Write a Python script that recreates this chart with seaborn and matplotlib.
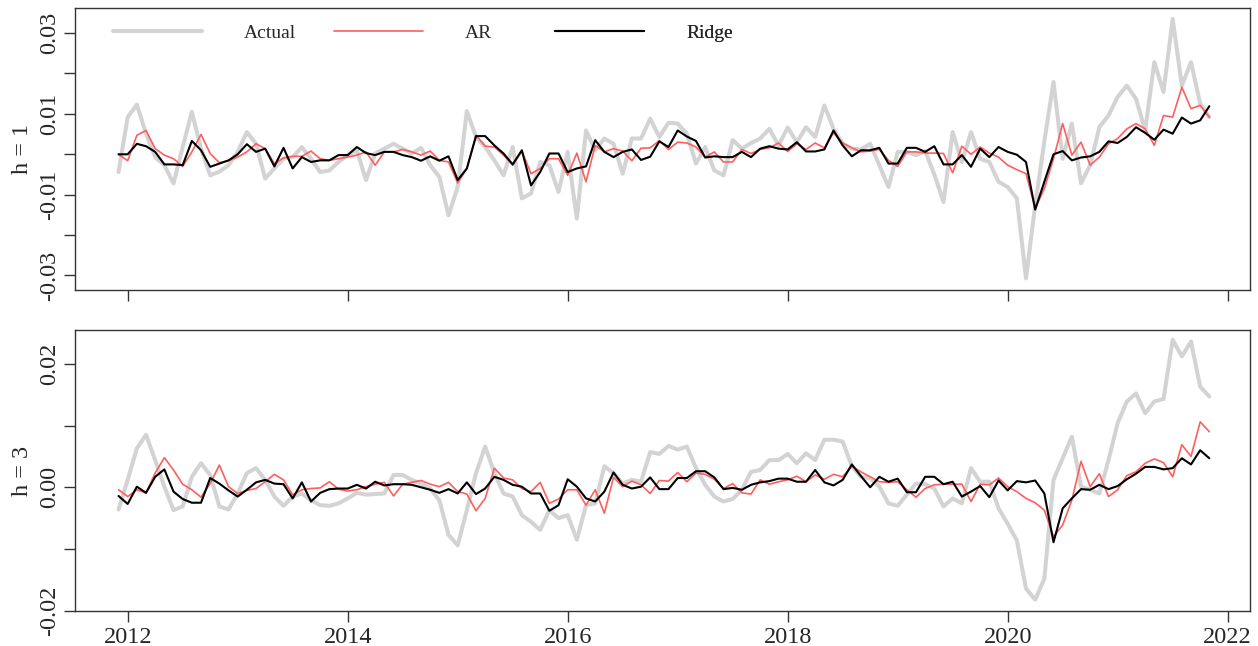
import numpy as np
import pandas as pd
import matplotlib
matplotlib.use("Agg")
import matplotlib.pyplot as plt
from matplotlib.lines import Line2D
import seaborn as sns

# Monthly observations, Dec 2011 .. Nov 2021 (values in units of 0.001)
start_year, start_month, n_months = 2011, 12, 120

actual_h1 = [-4.4, 9.2, 12.3, 5.1, -0.7, -2.7, -7.2, 1.8, 10.5, 1.4,
             -5.2, -4.3, -2.7, 0.6, 5.5, 2.6, -6.0, -3.5, -1.1, -0.7,
             1.8, -1.1, -4.4, -4.0, -1.9, -0.2, 1.0, -6.4, 0.2, 1.4,
             2.6, 1.4, 0.2, 1.6, -2.7, -5.6, -15.1, -8.1, 10.7, 4.3,
             1.8, -1.5, -5.2, 1.8, -10.9, -9.7, -1.9, -2.7, -9.3, 0.6,
             -15.9, 5.9, 1.0, 3.9, 2.6, -4.8, 3.9, 3.9, 8.8, 4.3,
             7.8, 7.6, 5.1, -2.3, 1.8, -4.0, -5.2, 3.5, 1.4, 2.8,
             3.9, 6.3, 2.2, 6.6, 3.0, 6.7, 4.3, 12.1, 6.3, 2.6,
             1.4, 1.2, 2.6, -2.7, -8.1, 0.6, 0.6, -0.2, 0.8, -5.0,
             -11.8, 5.5, -1.9, 5.5, -1.1, -1.9, -6.8, -8.1, -10.9, -30.7,
             -12.6, 3.2, 17.9, -1.1, 7.6, -7.2, -2.7, 6.7, 9.6, 14.2,
             17.0, 13.7, 5.9, 22.8, 15.4, 33.5, 17.0, 22.8, 12.5, 9.2]

ar_h1 = [0.0, -1.6, 4.7, 5.9, 1.4, -0.2, -1.1, -3.0, 0.6, 4.9,
         0.2, -2.1, -1.6, -0.7, 0.6, 2.6, 1.4, -2.3, -0.9, -0.5,
         -0.5, 0.8, -1.1, -1.5, -1.1, -0.7, -0.2, 0.6, -2.7, 0.6,
         0.6, 1.2, 0.6, -0.2, 0.8, -1.5, -1.9, -7.1, -3.5, 4.7,
         2.0, 1.8, -0.2, -2.7, 0.8, -4.8, -3.5, -1.1, -1.1, -5.2,
         0.3, -6.8, 2.2, 0.6, 1.4, 0.8, -1.6, 1.5, 1.6, 3.4,
         1.2, 3.0, 2.8, 1.8, -0.7, 0.6, -1.9, -1.9, 1.2, 0.2,
         1.2, 1.6, 2.8, 0.7, 2.6, 1.2, 2.8, 1.6, 5.3, 2.8,
         1.6, 0.6, 0.8, 1.2, -1.5, -3.0, 0.6, 0.6, 0.3, 0.3,
         0.2, -4.6, 2.0, 0.0, 1.8, 0.3, -0.7, -2.7, -3.8, -4.8,
         -13.4, -8.5, -1.1, 7.6, -0.2, 3.0, -2.7, -0.7, 2.6, 3.9,
         6.3, 7.6, 6.3, 2.2, 9.6, 9.2, 16.6, 11.3, 12.1, 9.2]

ridge_h1 = [0.0, 0.0, 2.6, 2.0, 0.6, -2.5, -2.5, -2.7, 3.3, 1.0,
            -3.1, -2.3, -1.5, 0.0, 2.5, 0.6, 1.4, -3.0, 1.6, -3.5,
            -0.7, -1.9, -1.5, -1.5, -0.2, -0.2, 1.8, 0.3, -0.2, 0.6,
            0.6, -0.2, -0.7, -1.6, -0.5, -1.6, -0.5, -6.4, -3.5, 4.5,
            4.5, 2.2, 0.2, -2.5, 1.0, -7.7, -4.4, 0.2, 0.2, -4.4,
            -3.5, -3.0, 3.5, 0.6, -0.7, 0.6, 1.2, -1.4, -0.6, 3.2,
            1.8, 5.9, 4.4, 3.3, -0.8, -0.5, -0.7, -0.7, 0.6, -0.7,
            1.4, 2.0, 1.4, 1.2, 3.0, 0.7, 0.7, 1.2, 5.9, 2.2,
            -0.5, 1.0, 1.0, 1.6, -2.3, -2.3, 1.6, 1.6, 0.6, 2.0,
            -2.5, -2.5, -0.2, -3.1, 1.4, -0.7, 1.8, 0.6, -0.1, -1.9,
            -13.7, -6.8, 0.0, 0.8, -1.5, -0.8, -0.5, 0.6, 3.2, 2.8,
            4.3, 6.7, 5.3, 3.6, 6.1, 5.1, 9.1, 7.6, 8.4, 11.9]

actual_h3 = [-3.6, 1.2, 6.3, 8.5, 4.4, 0.1, -3.7, -3.1, 1.7, 3.9,
             2.0, -3.1, -3.6, -1.0, 2.3, 3.1, 1.2, -1.5, -3.0, -1.5,
             -1.0, -2.1, -2.9, -3.0, -2.6, -1.8, -0.9, -1.2, -1.1, -1.0,
             2.0, 2.0, 1.2, 0.6, -0.2, -2.1, -7.7, -9.4, -3.7, 2.3,
             6.6, 2.3, -1.0, -1.5, -4.5, -5.6, -6.9, -3.7, -5.0, -4.5,
             -8.5, -2.9, -2.6, 3.4, 2.3, 0.6, 1.2, 0.9, 5.7, 5.4,
             6.7, 6.1, 6.6, 3.1, 0.4, -1.5, -2.3, -1.9, -0.4, 2.5,
             2.8, 4.4, 4.4, 5.4, 3.9, 5.5, 4.4, 7.7, 7.7, 7.4,
             3.4, 1.7, 1.5, 0.1, -2.6, -3.0, -1.2, 0.6, 0.5, -0.2,
             -3.1, -1.8, -2.6, 3.1, 0.9, 0.9, -3.4, -5.9, -8.6, -16.4,
             -18.2, -14.8, 1.2, 4.7, 8.2, 0.1, -0.4, -1.0, 4.4, 10.4,
             13.9, 15.2, 12.0, 13.9, 14.3, 23.9, 21.2, 23.6, 16.3, 14.7]

ar_h3 = [-0.4, -1.5, -0.4, -0.9, 2.3, 4.8, 2.8, 0.5, -0.4, -1.6,
         0.6, 3.6, 0.1, -1.0, -0.5, -0.2, 0.9, 2.1, 1.2, -1.2,
         -0.4, -0.2, -0.1, 0.9, -0.3, -0.6, -0.4, 0.1, 0.5, 0.8,
         -1.4, 0.5, 0.8, 1.1, 0.5, 0.1, 0.8, -0.7, -1.1, -3.8,
         -1.8, 3.1, 1.5, 1.2, -0.2, -0.7, 0.8, -2.6, -1.9, -0.4,
         -0.4, -2.9, -0.4, -4.2, 1.6, 0.1, 1.0, 0.4, -1.0, 1.1,
         1.0, 2.4, 0.9, 2.3, 2.1, 1.3, -0.2, 0.6, -0.9, -1.1,
         1.2, 0.5, 0.9, 1.2, 1.8, 0.9, 2.0, 1.3, 2.1, 1.7,
         3.4, 2.5, 1.7, 0.9, 0.8, 0.9, -0.4, -1.6, -0.2, 0.4,
         0.5, 0.5, 0.5, -2.3, 0.5, 0.4, 1.5, 0.1, -0.7, -1.8,
         -2.5, -3.7, -8.0, -6.1, -2.1, 4.2, 0.1, 2.2, -1.5, -0.4,
         1.9, 2.5, 3.9, 4.6, 4.0, 1.7, 6.9, 5.0, 10.6, 9.0]

ridge_h3 = [-1.4, -2.7, 0.1, -0.9, 1.7, 2.9, -0.7, -1.9, -2.5, -2.5,
            1.5, 0.6, -0.5, -1.5, -0.4, 0.8, 1.2, 0.6, 0.5, -1.8,
            0.8, -2.3, -0.9, -0.3, -0.2, -0.2, 0.4, -0.2, 0.9, 0.3,
            0.5, 0.5, 0.4, 0.0, -0.4, -0.9, -0.3, -1.0, 0.8, -1.1,
            -0.2, 1.7, 1.2, 0.4, 0.1, -1.0, -1.0, -3.8, -2.9, 1.3,
            0.1, -1.8, -2.3, -0.7, 2.4, 0.4, -0.2, 0.1, 1.6, -0.3,
            -0.3, 1.5, 1.5, 2.6, 2.6, 1.6, -0.3, -0.1, -0.4, 0.4,
            0.8, 1.0, 1.4, 1.4, 0.9, 0.9, 2.8, 0.8, 0.3, 1.2,
            3.7, 1.8, 0.0, 1.7, 0.9, 1.4, -0.8, -0.8, 1.7, 1.7,
            0.5, 0.9, -1.5, -0.7, 0.2, -1.6, 1.1, -0.5, 1.0, 0.8,
            1.1, -1.0, -8.9, -3.4, -1.8, -0.3, -0.4, 0.4, -0.3, 0.2,
            1.3, 2.2, 3.3, 3.3, 2.9, 3.1, 4.7, 3.7, 6.0, 4.7]

series_names = ["Actual", "AR", "Ridge"]
year_ticks = [2012, 2014, 2016, 2018, 2020, 2022]

# decimal-year time axis for the monthly index
t = start_year + (start_month - 1) / 12 + np.arange(n_months) / 12.0


def to_frame(actual, ar, ridge):
    df = pd.DataFrame({"time": t,
                       "Actual": np.array(actual) / 1000.0,
                       "AR": np.array(ar) / 1000.0,
                       "Ridge": np.array(ridge) / 1000.0})
    return df.melt(id_vars="time", var_name="model", value_name="value")


sns.set_style("white")
plt.rcParams["font.family"] = ["Liberation Serif", "DejaVu Serif"]

styles = {"Actual": dict(color="#d3d3d3", lw=2.9),
          "AR": dict(color="#ff5e5e", lw=1.2),
          "Ridge": dict(color="#000000", lw=1.5)}

FS = 17.5

fig = plt.figure(figsize=(12.58, 6.46), dpi=100)
W, H = 1258.0, 646.0
ax1 = fig.add_axes([75 / W, 1 - 290 / H, 1175 / W, 282 / H])
ax2 = fig.add_axes([75 / W, 1 - 611.3 / H, 1175 / W, 281.3 / H])

panels = [
    (ax1, to_frame(actual_h1, ar_h1, ridge_h1), "h = 1",
     (-0.03359, 0.03621), [-0.03, -0.02, -0.01, 0.0, 0.01, 0.02, 0.03],
     ["-0.03", "", "-0.01", "", "0.01", "", "0.03"]),
    (ax2, to_frame(actual_h3, ar_h3, ridge_h3), "h = 3",
     (-0.02008, 0.02547), [-0.02, -0.01, 0.0, 0.01, 0.02],
     ["-0.02", "", "0.00", "", "0.02"]),
]

for ax, df, ylab, ylim, yticks, ylabels in panels:
    for name in series_names:
        sub = df[df["model"] == name]
        sns.lineplot(data=sub, x="time", y="value", ax=ax, legend=False,
                     color=styles[name]["color"],
                     linewidth=styles[name]["lw"])
    ax.set_xlim(2011.521, 2022.203)
    ax.set_ylim(*ylim)
    ax.set_yticks(yticks)
    ax.set_yticklabels(ylabels, rotation=90, va="center", fontsize=FS)
    ax.set_xticks(year_ticks)
    ax.set_ylabel(ylab, fontsize=FS, labelpad=4)
    ax.set_xlabel("")
    ax.tick_params(axis="both", direction="out", length=8, width=1,
                   color="#333333", left=True, bottom=True)
    ax.tick_params(axis="y", pad=3)
    ax.tick_params(axis="x", pad=3)
    for sp in ax.spines.values():
        sp.set_visible(True)
        sp.set_color("#333333")
        sp.set_linewidth(1.0)

ax1.set_xticklabels([])
ax2.set_xticklabels([str(y) for y in year_ticks], fontsize=FS)

# horizontal legend across the top of the upper panel
legend_x = {"Actual": 113, "AR": 334, "Ridge": 555}
for name in series_names:
    h = Line2D([], [], color=styles[name]["color"], lw=styles[name]["lw"])
    leg = ax1.legend([h], [name], loc="center left",
                     bbox_to_anchor=((legend_x[name] - 75) / 1175, 0.91),
                     frameon=False, fontsize=14, handlelength=4.6,
                     handletextpad=2.15, borderpad=0, borderaxespad=0)
    ax1.add_artist(leg)

fig.savefig("out.png", dpi=100)
